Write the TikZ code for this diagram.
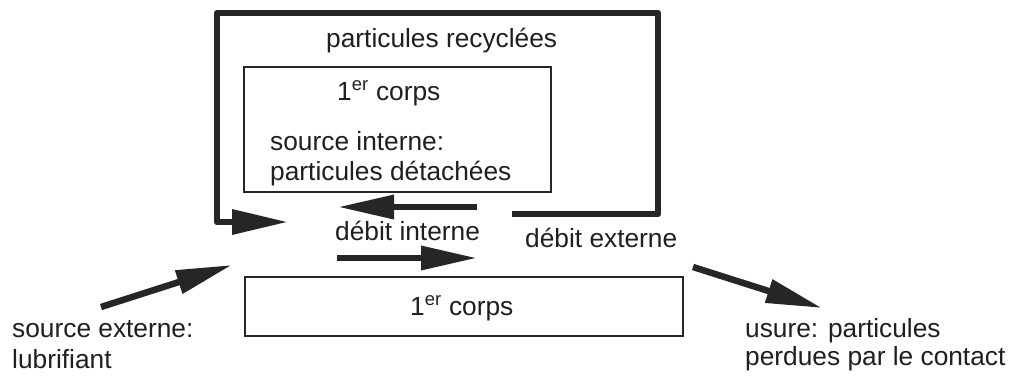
\documentclass[tikz,border=0pt]{standalone}
\usepackage{fontspec}
\setmainfont{Liberation Sans}
\usetikzlibrary{arrows.meta}
\begin{document}
\begin{tikzpicture}[x=1pt,y=-1pt,
  font=\fontsize{26.3}{31}\selectfont,
  ink/.style={color=black!85},
  fatarrow/.style={ink, line width=6.5pt, -{Triangle[length=56pt,width=23pt]}},
  loopline/.style={ink, line width=6.5pt, line join=round, -{Triangle[length=56pt,width=24pt]}},
  box/.style={draw=black!85, line width=1.5pt, anchor=north west, inner sep=0pt, outer sep=0pt},
  lbl/.style={text=black!88, inner sep=0pt, anchor=base west}]
\fill[white] (0,0) rectangle (1013,376);
\useasboundingbox (0,0) rectangle (1013,376);

% boxes
\node[box, minimum width=307pt, minimum height=125pt] (innerbox) at (244,67) {};
\node[box, minimum width=438pt, minimum height=59pt] (lowerbox) at (245,277) {};

% texts
\node[lbl] (recy) at (326,47) {particules recyclées};
\node[lbl] (corpsA) at (337,100) {1\textsuperscript{er} corps};
\node[lbl] (srcint) at (270,150) {source interne:};
\node[lbl] (detach) at (270,180) {particules détachées};
\node[lbl] (debint) at (335,240) {débit interne};
\node[lbl] (debext) at (525,247) {débit externe};
\node[lbl] (corpsB) at (410,315) {1\textsuperscript{er} corps};
\node[lbl] (srcext) at (12,337) {source externe:};
\node[lbl] (lubri) at (12,368) {lubrifiant};
\node[lbl] (usure) at (745,337) {usure: particules};
\node[lbl] (perdu) at (745,365) {perdues par le contact};

% coordinates for connector ends
\coordinate (loopS) at (512,214);
\coordinate (loopE) at (288,222);
\coordinate (intA) at (477,207);
\coordinate (intB) at (338,207);
\coordinate (intC) at (337,258);
\coordinate (intD) at (477,258);
\coordinate (extA) at (101,307);
\coordinate (extB) at (232,265);
\coordinate (useA) at (693,267);
\coordinate (useB) at (822,308);

% recycling loop
\draw[loopline] (loopS) -| (658,13) -| (217,222) -- (loopE);

% arrows
\draw[fatarrow] (intA) -- (intB);
\draw[fatarrow] (intC) -- (intD);
\draw[fatarrow] (extA) -- (extB);
\draw[fatarrow] (useA) -- (useB);
\end{tikzpicture}
\end{document}
